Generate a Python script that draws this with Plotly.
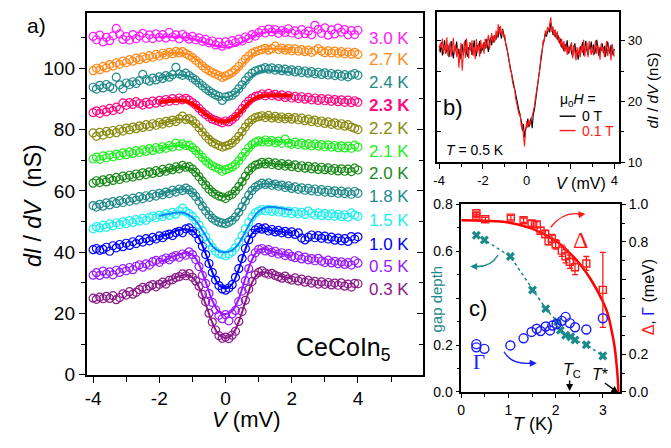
import plotly.graph_objects as go

FONT = "Liberation Sans, Arial, sans-serif"
SERIF = "Liberation Serif, Times New Roman, serif"
W, H = 671, 448

# ---------------- panel a: dI/dV spectra (nS) ----------------
V_data = [-4.0, -3.9, -3.8, -3.7, -3.6, -3.5, -3.4, -3.3, -3.2, -3.1,
          -3.0, -2.9, -2.8, -2.7, -2.6, -2.5, -2.4, -2.3, -2.2, -2.1,
          -2.0, -1.9, -1.8, -1.7, -1.6, -1.5, -1.4, -1.3, -1.2, -1.1,
          -1.0, -0.9, -0.8, -0.7, -0.6, -0.5, -0.4, -0.3, -0.2, -0.1,
          0.0, 0.1, 0.2, 0.3, 0.4, 0.5, 0.6, 0.7, 0.8, 0.9,
          1.0, 1.1, 1.2, 1.3, 1.4, 1.5, 1.6, 1.7, 1.8, 1.9,
          2.0, 2.1, 2.2, 2.3, 2.4, 2.5, 2.6, 2.7, 2.8, 2.9,
          3.0, 3.1, 3.2, 3.3, 3.4, 3.5, 3.6, 3.7, 3.8, 3.9,
          4.0]
V_fit = [-2.0, -1.8, -1.6, -1.4, -1.2, -1.0, -0.8, -0.6, -0.4, -0.2, 0.0,
         0.2, 0.4, 0.6, 0.8, 1.0, 1.2, 1.4, 1.6, 1.8, 2.0]

data_03K = [25.0, 24.6, 25.3, 24.8, 25.6, 24.9, 25.8, 24.5, 25.2, 26.4,
            26.0, 27.1, 26.3, 26.9, 27.8, 28.5, 28.0, 28.9, 29.4, 28.7,
            29.5, 30.2, 29.6, 30.8, 31.0, 31.7, 32.0, 32.9, 32.3, 33.0,
            31.8, 30.6, 28.9, 26.2, 23.8, 20.1, 17.2, 14.6, 12.8, 11.9,
            12.3, 11.8, 12.9, 14.2, 17.4, 20.6, 24.3, 27.9, 30.4, 32.6,
            33.4, 33.9, 33.2, 32.8, 33.1, 32.4, 32.0, 31.5, 32.2, 31.3,
            30.9, 31.6, 30.6, 31.2, 30.2, 30.8, 29.9, 30.5, 29.6, 30.3,
            29.5, 30.1, 29.3, 29.9, 29.2, 30.0, 28.9, 29.6, 28.6, 29.8,
            29.7]
data_05K = [32.5, 33.3, 32.4, 33.8, 32.9, 33.6, 32.6, 34.1, 33.4, 34.6,
            33.9, 35.0, 34.3, 35.4, 35.9, 35.1, 36.2, 35.8, 36.9, 37.3,
            36.7, 37.6, 38.1, 37.5, 38.4, 38.9, 38.3, 39.4, 39.0, 40.1,
            39.2, 37.6, 35.3, 32.4, 29.8, 26.5, 23.6, 21.2, 19.4, 18.3,
            19.6, 17.6, 19.9, 21.0, 23.9, 27.3, 30.7, 34.6, 37.9, 39.8,
            40.9, 41.2, 40.4, 40.8, 39.9, 40.3, 39.4, 39.8, 38.9, 39.5,
            38.6, 38.2, 38.9, 37.8, 38.4, 37.5, 37.9, 37.2, 38.0, 37.1,
            36.6, 37.4, 36.5, 37.0, 36.2, 36.8, 36.0, 36.6, 35.8, 37.2,
            36.4]
data_10K = [40.8, 41.2, 40.6, 40.9, 41.6, 40.3, 42.1, 41.4, 42.5, 41.8,
            42.9, 42.2, 43.4, 42.8, 44.0, 43.3, 44.4, 43.7, 44.8, 44.3,
            45.3, 44.7, 45.6, 45.9, 45.4, 46.4, 46.8, 46.3, 47.6, 47.9,
            46.9, 46.0, 44.1, 41.9, 39.2, 36.3, 33.4, 30.9, 29.1, 28.0,
            27.6, 28.3, 29.4, 31.8, 34.6, 37.9, 41.2, 44.0, 46.1, 47.3,
            48.0, 47.5, 47.9, 46.9, 47.4, 46.6, 47.1, 46.3, 46.8, 46.0,
            46.6, 45.8, 46.3, 44.6, 44.0, 44.9, 45.6, 44.7, 45.4, 44.5,
            45.2, 44.3, 44.9, 43.9, 44.6, 43.7, 44.4, 43.5, 45.1, 44.3,
            45.0]
data_15K = [47.6, 48.3, 47.9, 48.8, 48.1, 49.2, 48.6, 49.6, 49.0, 49.9,
            49.3, 50.3, 49.7, 50.6, 50.1, 51.0, 50.4, 51.3, 51.8, 51.2,
            52.1, 51.6, 52.5, 52.0, 53.0, 52.4, 53.4, 54.4, 53.2, 52.6,
            51.7, 50.4, 48.9, 47.0, 45.0, 43.1, 41.5, 40.3, 39.5, 39.2,
            38.8, 39.4, 40.1, 41.4, 43.3, 45.4, 47.6, 49.7, 51.5, 52.8,
            53.4, 53.9, 53.5, 54.0, 53.3, 53.8, 53.1, 53.6, 52.8, 53.4,
            52.6, 53.2, 52.5, 53.0, 52.3, 53.4, 52.7, 52.1, 52.8, 52.0,
            52.6, 51.9, 52.5, 51.7, 52.3, 51.6, 52.2, 51.4, 52.8, 52.1,
            51.7]
data_18K = [55.2, 54.7, 55.6, 55.0, 56.1, 55.4, 56.5, 55.9, 56.8, 56.2,
            57.3, 56.6, 57.6, 57.0, 58.1, 57.5, 58.4, 57.9, 58.9, 58.3,
            59.2, 58.7, 59.6, 59.1, 60.2, 59.6, 60.6, 60.1, 60.9, 60.3,
            59.4, 58.2, 56.6, 55.0, 53.5, 52.2, 51.1, 50.3, 49.8, 49.5,
            49.3, 49.8, 50.4, 51.5, 53.0, 54.8, 56.7, 58.6, 60.1, 61.2,
            61.9, 62.5, 62.1, 62.6, 61.8, 62.2, 61.5, 61.9, 61.1, 61.6,
            60.8, 61.3, 60.5, 61.0, 60.2, 60.8, 60.0, 60.6, 59.8, 60.4,
            59.6, 60.2, 59.4, 60.0, 59.2, 59.9, 59.1, 59.7, 58.9, 59.8,
            59.2]
data_20K = [62.5, 63.3, 62.7, 63.6, 62.9, 64.0, 63.4, 64.4, 63.7, 64.8,
            64.2, 65.1, 64.5, 65.5, 64.9, 65.9, 65.3, 66.2, 65.7, 66.6,
            66.0, 67.0, 66.4, 67.4, 66.9, 67.8, 67.2, 68.3, 67.7, 67.9,
            67.1, 66.0, 64.6, 63.2, 61.9, 60.6, 59.6, 58.9, 58.3, 58.0,
            57.5, 58.4, 58.9, 60.0, 61.4, 63.0, 64.8, 66.5, 67.6, 68.4,
            68.7, 69.3, 68.8, 69.4, 68.6, 69.1, 68.3, 68.9, 68.1, 68.7,
            67.9, 68.5, 67.6, 68.2, 67.4, 68.0, 67.2, 67.8, 67.0, 67.7,
            66.9, 67.5, 66.7, 67.3, 66.5, 67.2, 66.4, 67.1, 66.3, 67.4,
            66.8]
data_21K = [70.4, 71.0, 70.3, 71.4, 70.8, 71.7, 71.1, 72.0, 71.5, 72.4,
            71.8, 72.7, 72.2, 73.1, 72.5, 73.4, 72.9, 73.8, 73.2, 74.1,
            73.6, 74.4, 73.9, 74.8, 74.3, 75.6, 74.6, 75.3, 74.8, 74.9,
            74.1, 73.2, 72.0, 70.9, 69.8, 68.9, 68.2, 67.6, 67.2, 66.4,
            66.9, 67.3, 67.8, 68.6, 69.8, 71.2, 72.6, 74.0, 75.1, 75.8,
            76.3, 76.0, 76.6, 75.9, 76.4, 75.7, 76.2, 75.5, 76.9, 75.6,
            75.2, 75.9, 75.1, 75.6, 74.9, 75.4, 74.7, 75.3, 74.6, 75.1,
            74.4, 75.0, 74.3, 74.8, 74.1, 74.7, 74.0, 74.6, 73.9, 74.9,
            74.3]
data_22K = [78.9, 77.8, 79.1, 78.2, 79.4, 78.7, 79.7, 79.0, 80.1, 79.5,
            80.5, 79.9, 80.8, 80.3, 81.2, 80.7, 81.6, 81.0, 81.9, 81.4,
            82.3, 81.8, 82.7, 82.2, 83.1, 82.6, 83.5, 84.4, 83.3, 83.6,
            82.9, 81.9, 80.6, 79.2, 77.9, 76.8, 75.9, 75.3, 74.8, 74.3,
            74.6, 75.0, 75.6, 76.6, 77.8, 79.3, 80.8, 82.2, 83.2, 83.9,
            84.2, 84.5, 83.9, 84.6, 83.8, 84.3, 83.6, 84.1, 83.5, 84.0,
            83.4, 83.9, 83.2, 83.7, 82.9, 83.4, 82.6, 83.1, 82.3, 82.8,
            82.0, 82.5, 81.7, 82.2, 81.4, 81.9, 81.1, 81.6, 80.8, 80.4,
            80.0]
data_23K = [85.5, 86.1, 85.3, 86.4, 85.8, 86.9, 86.2, 87.3, 86.6, 88.7,
            87.9, 88.8, 88.2, 89.1, 88.5, 88.0, 88.9, 88.3, 89.3, 88.6,
            89.5, 88.9, 89.8, 89.2, 90.1, 89.4, 90.3, 89.7, 90.2, 89.6,
            88.8, 88.0, 86.9, 85.8, 84.9, 84.1, 83.4, 83.0, 82.6, 82.2,
            82.8, 82.5, 83.3, 84.2, 85.4, 86.8, 88.2, 89.3, 90.2, 90.8,
            91.1, 91.6, 91.0, 91.8, 91.1, 91.5, 90.8, 91.3, 90.5, 91.1,
            90.3, 90.8, 90.1, 90.7, 89.9, 90.5, 89.7, 90.3, 89.5, 90.1,
            89.4, 90.0, 89.2, 89.8, 89.1, 89.7, 88.9, 89.6, 88.8, 89.4,
            88.9]
data_24K = [93.8, 93.2, 94.4, 93.6, 94.7, 94.0, 93.4, 97.1, 94.6, 93.3,
            95.2, 94.7, 95.6, 95.0, 96.0, 98.0, 96.3, 95.8, 96.8, 96.2,
            97.2, 96.7, 97.6, 97.1, 97.9, 100.3, 98.2, 97.7, 98.4, 97.6,
            96.8, 96.1, 95.2, 94.3, 93.4, 92.6, 91.9, 91.3, 90.8, 89.5,
            90.6, 90.9, 91.2, 92.1, 93.3, 94.6, 96.0, 97.3, 98.4, 99.1,
            99.5, 99.8, 100.2, 99.7, 100.1, 99.4, 99.9, 99.2, 99.7, 99.0,
            99.5, 98.8, 99.3, 98.6, 99.1, 98.4, 98.9, 98.2, 98.7, 98.0,
            98.5, 97.8, 98.3, 97.6, 98.1, 97.4, 97.9, 97.2, 97.8, 98.3,
            97.7]
data_27K = [99.2, 100.0, 99.5, 100.6, 100.1, 101.2, 100.7, 101.8, 101.3, 102.3,
            101.8, 102.8, 102.3, 103.3, 102.8, 103.7, 103.2, 104.1, 103.6, 104.5,
            104.0, 104.9, 104.4, 105.2, 104.7, 105.5, 105.0, 105.4, 104.8, 104.2,
            103.5, 102.6, 101.7, 100.8, 99.9, 99.2, 98.6, 98.1, 97.6, 97.0,
            97.5, 98.0, 98.6, 99.5, 100.6, 101.8, 103.0, 104.0, 104.9, 105.4,
            105.8, 106.1, 106.5, 105.9, 106.4, 107.2, 106.1, 106.6, 105.9, 106.4,
            105.7, 106.3, 105.6, 106.1, 105.4, 105.9, 105.2, 105.8, 106.4, 105.6,
            105.1, 105.7, 105.0, 105.6, 104.9, 105.4, 104.7, 105.3, 104.6, 105.2,
            104.5]
data_30K = [110.4, 109.3, 110.8, 108.6, 110.1, 109.0, 110.6, 113.0, 111.2, 109.4,
            110.3, 109.2, 111.0, 109.6, 110.5, 111.4, 109.8, 110.9, 109.7, 111.2,
            110.1, 111.0, 109.9, 111.7, 110.2, 110.9, 109.6, 111.1, 110.3, 109.5,
            110.4, 109.3, 109.9, 108.8, 109.4, 108.3, 108.9, 107.6, 108.5, 107.2,
            108.6, 107.8, 109.0, 108.4, 109.5, 108.9, 110.2, 109.7, 111.0, 110.5,
            111.6, 112.4, 111.5, 112.8, 111.9, 112.6, 111.4, 112.3, 111.7, 112.9,
            111.5, 112.2, 111.0, 112.6, 111.3, 112.1, 110.9, 114.0, 112.7, 111.4,
            113.2, 110.8, 112.5, 111.2, 113.1, 111.8, 112.6, 110.9, 112.3, 111.0,
            112.4]

fit_03K = [29.5, 30.3, 31.2, 32.2, 32.6, 31.8, 28.5, 23.0, 17.0, 13.0, 12.0, 13.0, 17.3, 23.8, 30.0, 33.2, 33.4, 32.9, 32.3, 31.8, 31.4]
fit_05K = [36.8, 37.6, 38.5, 39.3, 39.7, 39.2, 36.0, 30.3, 24.2, 20.5, 19.8, 20.8, 24.8, 31.5, 37.5, 40.8, 41.0, 40.2, 39.6, 39.2, 38.8]
fit_10K = [45.0, 45.7, 46.5, 47.2, 47.5, 47.0, 44.5, 39.5, 33.5, 29.3, 28.2, 29.6, 34.5, 41.0, 46.0, 47.8, 47.6, 47.1, 46.8, 46.5, 46.3]
fit_15K = [51.8, 52.3, 52.7, 52.9, 52.6, 51.3, 48.8, 45.3, 42.0, 40.3, 40.0, 40.6, 42.8, 46.7, 50.6, 53.3, 54.5, 54.8, 54.5, 54.1, 53.8]
fit_18K = [58.8, 59.4, 60.0, 60.4, 60.5, 59.6, 57.2, 54.0, 51.3, 49.9, 49.6, 50.4, 52.8, 56.5, 60.0, 61.9, 62.4, 62.2, 61.8, 61.4, 61.0]
fit_20K = [66.1, 66.7, 67.3, 67.7, 67.8, 67.0, 65.0, 62.3, 59.9, 58.5, 58.2, 59.0, 61.2, 64.3, 67.2, 68.7, 69.1, 68.9, 68.7, 68.5, 68.4]
fit_21K = [73.7, 74.2, 74.6, 74.9, 74.8, 74.0, 72.3, 70.1, 68.3, 67.2, 67.0, 67.7, 69.6, 72.2, 74.6, 75.9, 76.3, 76.2, 76.0, 75.8, 75.6]
fit_22K = [81.9, 82.4, 82.9, 83.3, 83.3, 82.5, 80.6, 78.3, 76.3, 75.1, 74.8, 75.5, 77.5, 80.4, 82.9, 84.1, 84.3, 84.1, 83.9, 83.8, 83.7]
fit_23K = [88.9, 89.2, 89.4, 89.5, 89.3, 88.4, 86.8, 85.0, 83.5, 82.7, 82.6, 83.4, 85.2, 87.6, 89.6, 90.7, 91.1, 91.2, 91.2, 91.1, 91.0]
fit_24K = [96.8, 97.3, 97.7, 97.9, 97.7, 96.9, 95.3, 93.4, 91.7, 90.8, 90.5, 91.1, 92.8, 95.2, 97.5, 98.9, 99.3, 99.3, 99.1, 98.9, 98.7]
fit_27K = [104.3, 104.7, 105.0, 105.1, 104.8, 103.8, 102.0, 100.1, 98.5, 97.6, 97.3, 98.0, 99.8, 102.3, 104.5, 105.8, 106.3, 106.4, 106.3, 106.2, 106.1]
fit_30K = [110.2, 110.3, 110.3, 110.2, 110.0, 109.6, 109.0, 108.2, 107.5, 107.0, 106.8, 107.1, 107.9, 109.1, 110.3, 111.2, 111.7, 111.9, 112.0, 112.0, 112.0]

temp_labels = ["0.3 K", "0.5 K", "1.0 K", "1.5 K", "1.8 K", "2.0 K",
               "2.1 K", "2.2 K", "2.3 K", "2.4 K", "2.7 K", "3.0 K"]
label_y = [27.8, 35.3, 42.6, 50.4, 58.2, 65.7, 73.0, 80.3, 87.9, 95.2, 103.0, 109.8]
data_colors = ["#8a1a8a", "#9a1aff", "#0000ff", "#22eeee", "#208a8a", "#1a8a1a",
               "#22ee22", "#8a8a10", "#ff0a80", "#208a8a", "#ff8a1a", "#ff1aff"]
fit_colors = ["#8a1a8a", "#9a1aff", "#0000ff", "#0a84ff", "#208a8a", "#1a8a1a",
              "#22ee22", "#8a8a10", "#ff0000", "#208a8a", "#ff8a1a", "#ff1aff"]
all_data = [data_03K, data_05K, data_10K, data_15K, data_18K, data_20K,
            data_21K, data_22K, data_23K, data_24K, data_27K, data_30K]
all_fits = [fit_03K, fit_05K, fit_10K, fit_15K, fit_18K, fit_20K,
            fit_21K, fit_22K, fit_23K, fit_24K, fit_27K, fit_30K]

# ---------------- panel b: T = 0.5 K, two fields ----------------
V_b = [-4.00, -3.95, -3.90, -3.85, -3.80, -3.75, -3.70, -3.65, -3.60, -3.55,
       -3.50, -3.45, -3.40, -3.35, -3.30, -3.25, -3.20, -3.15, -3.10, -3.05,
       -3.00, -2.95, -2.90, -2.85, -2.80, -2.75, -2.70, -2.65, -2.60, -2.55,
       -2.50, -2.45, -2.40, -2.35, -2.30, -2.25, -2.20, -2.15, -2.10, -2.05,
       -2.00, -1.95, -1.90, -1.85, -1.80, -1.75, -1.70, -1.65, -1.60, -1.55,
       -1.50, -1.45, -1.40, -1.35, -1.30, -1.25, -1.20, -1.15, -1.10, -1.05,
       -1.00, -0.95, -0.90, -0.85, -0.80, -0.75, -0.70, -0.65, -0.60, -0.55,
       -0.50, -0.45, -0.40, -0.35, -0.30, -0.25, -0.20, -0.15, -0.10, -0.05,
       0.00, 0.05, 0.10, 0.15, 0.20, 0.25, 0.30, 0.35, 0.40, 0.45,
       0.50, 0.55, 0.60, 0.65, 0.70, 0.75, 0.80, 0.85, 0.90, 0.95,
       1.00, 1.05, 1.10, 1.15, 1.20, 1.25, 1.30, 1.35, 1.40, 1.45,
       1.50, 1.55, 1.60, 1.65, 1.70, 1.75, 1.80, 1.85, 1.90, 1.95,
       2.00, 2.05, 2.10, 2.15, 2.20, 2.25, 2.30, 2.35, 2.40, 2.45,
       2.50, 2.55, 2.60, 2.65, 2.70, 2.75, 2.80, 2.85, 2.90, 2.95,
       3.00, 3.05, 3.10, 3.15, 3.20, 3.25, 3.30, 3.35, 3.40, 3.45,
       3.50, 3.55, 3.60, 3.65, 3.70, 3.75, 3.80, 3.85, 3.90, 3.95,
       4.00]
dIdV_0T = [29.2, 28.1, 29.8, 27.6, 28.9, 30.1, 27.9, 28.6, 29.4, 27.3,
           28.8, 30.0, 28.2, 27.1, 29.1, 28.4, 29.9, 27.8, 28.7, 26.9,
           28.3, 29.5, 27.6, 28.9, 30.2, 28.0, 27.4, 29.0, 28.5, 29.7,
           27.7, 28.8, 30.1, 28.3, 27.5, 29.3, 28.6, 30.0, 27.9, 29.1,
           28.4, 29.8, 28.7, 30.3, 29.0, 28.2, 29.9, 30.6, 29.3, 30.8,
           29.7, 31.0, 30.2, 31.5, 30.6, 32.3, 31.1, 30.4, 32.0, 31.2,
           30.5, 29.6, 28.4, 27.8, 26.5, 25.6, 24.7, 23.5, 22.9, 21.6,
           20.8, 19.9, 19.1, 18.3, 17.6, 16.9, 15.2, 16.3, 14.1, 15.5,
           15.9, 17.2, 15.8, 16.4, 17.3, 15.6, 17.9, 18.6, 20.1, 21.4,
           23.0, 24.6, 25.8, 27.2, 28.5, 29.6, 30.3, 31.2, 30.7, 31.6,
           32.1, 31.4, 33.0, 32.2, 31.0, 31.8, 30.6, 31.3, 30.2, 30.9,
           29.6, 30.4, 28.9, 29.7, 28.3, 29.5, 28.8, 30.1, 27.9, 28.6,
           29.4, 28.0, 27.4, 28.9, 29.6, 27.8, 28.5, 26.9, 28.2, 29.1,
           28.3, 29.8, 27.6, 28.9, 30.0, 28.4, 27.7, 29.2, 28.6, 29.9,
           28.1, 29.4, 27.8, 28.7, 30.2, 28.9, 27.5, 29.0, 28.3, 29.6,
           28.0, 29.2, 27.4, 28.8, 29.9, 28.5, 27.9, 29.3, 28.1, 27.6,
           28.7]
dIdV_01T = [28.4, 29.6, 28.9, 30.4, 27.8, 29.3, 28.1, 30.6, 27.5, 29.0,
            29.8, 27.4, 28.7, 30.5, 27.9, 29.4, 27.3, 28.9, 25.6, 27.8,
            29.7, 25.1, 28.5, 29.9, 27.2, 30.4, 28.6, 27.1, 29.8, 28.3,
            30.1, 27.5, 28.9, 27.0, 30.3, 28.1, 29.6, 27.4, 30.2, 28.7,
            29.5, 27.9, 30.4, 28.8, 29.9, 31.0, 28.6, 30.1, 31.3, 29.8,
            30.9, 29.9, 31.7, 30.5, 32.8, 31.2, 32.5, 30.9, 31.8, 30.6,
            31.0, 29.2, 28.9, 27.4, 26.9, 25.2, 24.9, 23.2, 22.4, 21.9,
            20.4, 19.5, 18.6, 17.8, 18.1, 15.9, 16.4, 14.8, 12.6, 15.1,
            16.8, 15.7, 17.0, 16.1, 16.9, 17.6, 18.1, 19.2, 20.6, 21.9,
            22.7, 24.9, 25.4, 27.6, 28.2, 30.1, 29.8, 31.7, 31.1, 32.3,
            31.6, 32.8, 33.9, 31.5, 32.4, 30.8, 31.9, 30.4, 31.6, 29.8,
            30.6, 29.1, 30.3, 28.6, 30.0, 28.2, 29.4, 27.7, 29.1, 28.0,
            28.7, 29.8, 27.1, 29.3, 28.1, 26.8, 29.0, 27.6, 28.9, 27.3,
            29.4, 28.0, 30.2, 27.4, 28.8, 29.7, 27.3, 30.0, 28.5, 27.7,
            29.2, 27.6, 28.9, 30.1, 27.8, 29.3, 28.2, 26.9, 29.6, 28.4,
            29.0, 27.3, 28.7, 30.0, 27.5, 29.1, 28.3, 26.8, 29.5, 28.0,
            27.4]

# ---------------- panel c: temperature dependence ----------------
T_gap = [0.32, 0.49, 1.04, 1.51, 1.79, 2.04, 2.10, 2.21, 2.32, 2.41, 2.65, 3.00]
gap_depth = [0.668, 0.648, 0.578, 0.435, 0.355, 0.299, 0.263, 0.242, 0.235, 0.222, 0.201, 0.154]

T_gamma = [0.32, 0.32, 0.49, 1.04, 1.32, 1.49, 1.60, 1.68, 1.79, 1.88, 1.93,
           2.02, 2.13, 2.21, 2.30, 2.41, 2.65, 3.00]
gamma_meV = [0.255, 0.238, 0.230, 0.248, 0.286, 0.320, 0.337, 0.325, 0.349, 0.328, 0.354,
             0.362, 0.379, 0.400, 0.367, 0.345, 0.333, 0.393]

T_delta = [0.32, 0.32, 0.51, 1.05, 1.32, 1.49, 1.60, 1.68, 1.78, 1.85, 1.92,
           2.00, 2.13, 2.21, 2.30, 2.41, 2.65, 3.00]
delta_meV = [0.952, 0.936, 0.920, 0.929, 0.915, 0.898, 0.893, 0.859, 0.842, 0.804, 0.818,
             0.787, 0.753, 0.723, 0.694, 0.665, 0.685, 0.544]
delta_err = [0.008, 0.008, 0.01, 0.012, 0.012, 0.015, 0.015, 0.018, 0.02, 0.02, 0.022,
             0.025, 0.03, 0.035, 0.035, 0.04, 0.037, 0.2]

T_bcs = [0.0, 0.5, 1.0, 1.5, 2.0, 2.25, 2.5, 2.75, 3.0, 3.1, 3.2, 3.25, 3.29, 3.315, 3.33]
delta_bcs = [0.915, 0.912, 0.903, 0.870, 0.805, 0.752, 0.686, 0.598, 0.482, 0.420, 0.310,
             0.240, 0.150, 0.075, 0.0]

# ---------------- figure ----------------
def px(x):
    return x / W


def py(y):
    return 1 - y / H


fig = go.Figure()

for d, dc in zip(all_data, data_colors):
    fig.add_trace(go.Scatter(x=V_data, y=d, mode="markers", xaxis="x", yaxis="y",
                             marker=dict(symbol="circle-open", size=8, color=dc,
                                         line=dict(width=1.2, color=dc)),
                             hoverinfo="skip"))
for f, fc in zip(all_fits, fit_colors):
    wid = 4 if fc == "#ff0000" else 2
    fig.add_trace(go.Scatter(x=V_fit, y=f, mode="lines", xaxis="x", yaxis="y",
                             line=dict(color=fc, width=wid, shape="spline"),
                             hoverinfo="skip"))
fig.add_trace(go.Scatter(x=[None], y=[None], xaxis="x", yaxis="y5", hoverinfo="skip"))

fig.add_trace(go.Scatter(x=V_b, y=dIdV_0T, mode="lines", xaxis="x2", yaxis="y2",
                         line=dict(color="black", width=1.1), hoverinfo="skip"))
fig.add_trace(go.Scatter(x=V_b, y=dIdV_01T, mode="lines", xaxis="x2", yaxis="y2",
                         line=dict(color="#ff1a1a", width=1.1), hoverinfo="skip"))
fig.add_trace(go.Scatter(x=[None], y=[None], xaxis="x2", yaxis="y6", hoverinfo="skip"))

TEAL = "#1a8a8a"
fig.add_trace(go.Scatter(x=T_gap, y=gap_depth, mode="lines+markers", xaxis="x3", yaxis="y3",
                         line=dict(color=TEAL, width=1.5, dash="dot"),
                         marker=dict(symbol="x", size=8, color=TEAL),
                         hoverinfo="skip"))
fig.add_trace(go.Scatter(x=T_bcs, y=delta_bcs, mode="lines", xaxis="x3", yaxis="y4",
                         line=dict(color="#ff0000", width=2.5, shape="spline"),
                         hoverinfo="skip"))
fig.add_trace(go.Scatter(x=T_delta, y=delta_meV, mode="markers", xaxis="x3", yaxis="y4",
                         marker=dict(symbol="square-open", size=7, color="#ff1a1a",
                                     line=dict(width=1.4, color="#ff1a1a")),
                         error_y=dict(type="data", array=delta_err, color="#ff1a1a",
                                      thickness=1.3, width=3),
                         hoverinfo="skip"))
fig.add_trace(go.Scatter(x=T_gamma, y=gamma_meV, mode="markers", xaxis="x3", yaxis="y4",
                         marker=dict(symbol="circle-open", size=9, color="#1a1aff",
                                     line=dict(width=1.4, color="#1a1aff")),
                         hoverinfo="skip"))

ax_common = dict(showline=True, linecolor="black", linewidth=1.5, showgrid=False,
                 zeroline=False, ticks="outside", tickcolor="black", tickwidth=1.3)

fig.update_layout(
    width=W, height=H, margin=dict(l=0, r=0, t=0, b=0),
    paper_bgcolor="white", plot_bgcolor="white", showlegend=False,
    font=dict(family=FONT, color="black"),
    xaxis=dict(ax_common, domain=[px(83), px(422)], anchor="y", range=[-4.2, 5.98],
               tickvals=[-4, -2, 0, 2, 4], ticktext=["-4", "-2", "0", "2", "4"],
               ticklen=6, mirror=True, tickfont=dict(size=19),
               minor=dict(tickvals=[-3, -1, 1, 3, 5], ticks="outside", ticklen=5,
                          tickcolor="black", tickwidth=1.2)),
    yaxis=dict(ax_common, domain=[py(383), py(5)], anchor="x", range=[0, 118.1],
               tickvals=[0, 20, 40, 60, 80, 100], ticklen=6, mirror=True,
               tickfont=dict(size=19),
               minor=dict(tickvals=[10, 30, 50, 70, 90, 110], ticks="outside", ticklen=4,
                          tickcolor="black", tickwidth=1.2)),
    yaxis5=dict(overlaying="y", side="right", anchor="x", range=[0, 118.1],
                showline=False, showgrid=False, zeroline=False, showticklabels=False,
                ticks="inside", tickvals=[0, 20, 40, 60, 80, 100], ticklen=6,
                tickcolor="black", tickwidth=1.3,
                minor=dict(tickvals=[10, 30, 50, 70, 90, 110], ticks="inside", ticklen=4,
                           tickcolor="black", tickwidth=1.2)),
    xaxis2=dict(ax_common, domain=[px(436), px(619)], anchor="y2", range=[-4.08, 4.23],
                tickvals=[-4, -2, 0, 2, 4], ticktext=["-4", "-2", "0", "", "4"],
                ticklen=5, mirror=True, tickfont=dict(size=13),
                minor=dict(tickvals=[-3, -1, 1, 3], ticks="outside", ticklen=3,
                           tickcolor="black", tickwidth=1.1)),
    yaxis2=dict(ax_common, domain=[py(161), py(4)], anchor="x2", side="right",
                range=[10, 34.8], tickvals=[10, 20, 30], ticklen=4, mirror=True,
                tickfont=dict(size=13),
                minor=dict(tickvals=[15, 25], ticks="outside", ticklen=3,
                           tickcolor="black", tickwidth=1.1)),
    yaxis6=dict(overlaying="y2", side="left", anchor="x2", range=[10, 34.8],
                showline=False, showgrid=False, zeroline=False, showticklabels=False,
                ticks="inside", tickvals=[10, 15, 20, 25, 30], ticklen=4,
                tickcolor="black", tickwidth=1.2),
    xaxis3=dict(ax_common, domain=[px(460), px(620)], anchor="y3", range=[0, 3.37],
                tickvals=[0, 1, 2, 3], ticklen=4, mirror=True, tickfont=dict(size=14),
                minor=dict(tickvals=[0.5, 1.5, 2.5], ticks="outside", ticklen=3,
                           tickcolor="black", tickwidth=1.1)),
    yaxis3=dict(ax_common, domain=[py(401), py(205)], anchor="x3", range=[0, 0.8],
                tickvals=[0, 0.2, 0.4, 0.6, 0.8],
                ticktext=["0.0", "0.2", "", "0.6", "0.8"], ticklen=4,
                tickfont=dict(size=14),
                minor=dict(tickvals=[0.1, 0.3, 0.5, 0.7], ticks="outside", ticklen=3,
                           tickcolor="black", tickwidth=1.1)),
    yaxis4=dict(ax_common, overlaying="y3", side="right", anchor="x3", range=[0, 1.0],
                tickvals=[0, 0.2, 0.4, 0.6, 0.8, 1.0],
                ticktext=["0.0", "0.2", "", "", "0.8", "1.0"], ticklen=4,
                tickfont=dict(size=14),
                minor=dict(tickvals=[0.1, 0.3, 0.5, 0.7, 0.9], ticks="outside", ticklen=3,
                           tickcolor="black", tickwidth=1.1)),
)

ann = []


def text(x, y, s, size, color="black", family=FONT, angle=0, xanchor="center"):
    ann.append(dict(x=px(x), y=py(y), xref="paper", yref="paper", text=s, showarrow=False,
                    font=dict(size=size, color=color, family=family), textangle=angle,
                    xanchor=xanchor, yanchor="middle"))


# panel a texts
text(33, 18, "a)", 21)
text(29, 206, "<i>dI</i> / <i>dV</i>  (nS)", 23, angle=-90)
text(243, 430, "<i>V</i> (mV)", 22)
text(342, 356, "CeCoIn<sub>5</sub>", 25)
for lab, ly, c in zip(temp_labels, label_y, data_colors):
    s = "<b>" + lab + "</b>" if lab == "2.3 K" else lab
    ann.append(dict(x=4.28, y=ly, xref="x", yref="y", text=s, showarrow=False,
                    xanchor="left", yanchor="middle", font=dict(size=17, color=c, family=FONT)))

# panel b texts
text(452, 104, "b)", 22)
text(474, 148, "<i>T</i> = 0.5 K", 14)
text(557, 96, "μ<sub>0</sub><i>H</i> =", 14, xanchor="left")
text(579, 113, "0 T", 14, xanchor="left")
text(579, 128, "0.1 T", 14, color="#ff1a1a", xanchor="left")
text(580, 183, "<i>V</i> (mV)", 16)
text(652, 86, "<i>dI</i> / <i>dV</i> (nS)", 15, angle=-90)

# panel c texts
text(477, 314, "c)", 22)
text(580, 242, "Δ", 24, color="#ff1a1a", family=SERIF)
text(478, 370, "Γ", 21, color="#1a1aff", family=SERIF)
text(571, 379, "<i>T</i><sub>C</sub>", 16)
text(600, 383, "<i>T</i>*", 16)
text(435, 304, "gap depth", 15, color=TEAL, angle=-90)
text(648, 302, "<span style='color:#ff1a1a'>Δ</span>, <span style='color:#1a1aff'>Γ</span> (meV)",
     16, angle=-90)
text(532, 434, "<i>T</i> (K)", 18)


def arrow(hx, hy, ax, ay, color):
    ann.append(dict(x=px(hx), y=py(hy), xref="paper", yref="paper", text="", showarrow=True,
                    ax=ax, ay=ay, arrowhead=2, arrowsize=1, arrowwidth=1.4,
                    arrowcolor=color, standoff=0, startstandoff=0))


arrow(585, 215, -9, 1, "#ff1a1a")
arrow(469, 270, 9, 0, TEAL)
arrow(536, 371, -9, 0, "#1a1aff")
arrow(569, 400, 0, -12, "black")
arrow(618, 402, -15, -11, "black")

fig.update_layout(annotations=ann)


def curve(x0, y0, cx, cy, x1, y1, color):
    return dict(type="path", xref="paper", yref="paper",
                path=f"M {px(x0)},{py(y0)} Q {px(cx)},{py(cy)} {px(x1)},{py(y1)}",
                line=dict(color=color, width=1.4))


shapes = [
    curve(550, 229, 562, 213, 578, 215, "#ff1a1a"),
    curve(497, 258, 490, 270, 476, 270, TEAL),
    curve(503, 359, 510, 372, 529, 371, "#1a1aff"),
    dict(type="line", xref="paper", yref="paper", x0=px(559), x1=px(575), y0=py(113), y1=py(113),
         line=dict(color="black", width=1.4)),
    dict(type="line", xref="paper", yref="paper", x0=px(559), x1=px(575), y0=py(128), y1=py(128),
         line=dict(color="#ff1a1a", width=1.4)),
]
fig.update_layout(shapes=shapes)

fig.write_html("out.html", config={"displayModeBar": False},
               post_script="document.body.style.margin='0px';")
